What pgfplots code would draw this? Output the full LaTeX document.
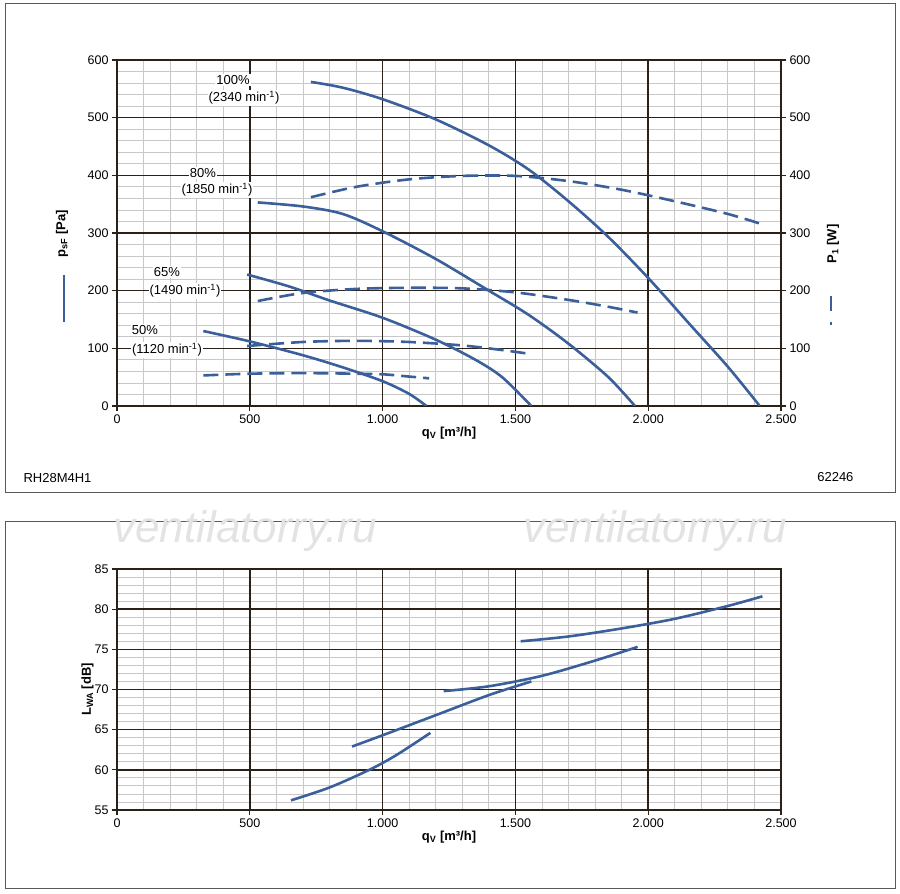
\documentclass[border=0pt]{standalone}
\usepackage{pgfplots}
\pgfplotsset{compat=1.18}
\usepackage{fontspec}
\setmainfont{Liberation Sans}
\definecolor{cb}{HTML}{3A5F9A}
\definecolor{gr}{HTML}{C8C8C8}
\definecolor{fr}{HTML}{2A2118}
\begin{document}
\begin{tikzpicture}[x=1pt,y=1pt,font=\fontsize{13}{15}\selectfont]
\useasboundingbox (0pt,0pt) rectangle (900pt,894pt);
\draw[gray!70!black,line width=1] (5pt,401pt) rectangle (895pt,890pt);
\draw[gray!70!black,line width=1] (5pt,5pt) rectangle (895pt,372pt);
\pgfplotsset{every axis/.style={scale only axis, anchor=south west,
  /pgf/number format/assume math mode=true,
  /pgf/number format/1000 sep={.},
  xmin=0,xmax=2500, xtick={0,500,1000,1500,2000,2500},
  axis line style={fr,line width=1.5}, tick style={fr,line width=1.2},
  tick align=outside, major tick length=5pt, minor tick length=0pt, tick pos=left,
  tick label style={font=\fontsize{12.5}{14}\selectfont}},
  mgrid/.style={grid=major, major grid style={fr,line width=1.5}},
  bgrid/.style={grid=minor, minor grid style={gr,line width=0.8}, xticklabels={}, yticklabels={}, major tick length=0pt,
     minor xtick={100,200,...,2400}},
  cv/.style={cb,line width=2.6,smooth,tension=0.5,no markers},
  dv/.style={cv,dash pattern=on 15pt off 7pt}}
% top axis
\begin{axis}[at={(117pt,488pt)},width=664pt,height=346pt, bgrid,
  ymin=0,ymax=600, minor ytick={20,40,...,580}]
\end{axis}
\begin{axis}[at={(117pt,488pt)},width=664pt,height=346pt, mgrid,
  ymin=0,ymax=600,ytick={0,100,200,300,400,500,600},
  xlabel={\textbf{q\textsubscript{V} [m³/h]}}, xlabel style={yshift=3pt}]
\addplot[cv] coordinates {(730,562)(850,552)(1000,532)(1200,497)(1400,452)(1550,410)(1700,355)(1850,293)(2000,222)(2150,145)(2300,68)(2420,0)};
\addplot[cv] coordinates {(530,353)(700,346)(850,333)(1000,303)(1200,255)(1400,200)(1550,158)(1700,108)(1850,50)(1950,0)};
\addplot[cv] coordinates {(490,228)(650,207)(800,183)(1000,153)(1200,115)(1350,80)(1450,50)(1560,0)};
\addplot[cv] coordinates {(325,130)(500,112)(700,88)(850,67)(1000,43)(1100,21)(1165,0)};
\addplot[dv] coordinates {(730,362)(900,380)(1100,393)(1300,399)(1500,399)(1700,390)(1900,375)(2100,355)(2300,333)(2430,315)};
\addplot[dv] coordinates {(530,182)(700,196)(900,203)(1100,205)(1300,204)(1500,197)(1700,184)(1850,172)(1960,162)};
\addplot[dv] coordinates {(490,104)(700,111)(900,113)(1100,111)(1300,105)(1450,97)(1560,90)};
\addplot[dv] coordinates {(325,53)(500,56)(700,57)(900,56)(1000,55)(1100,51)(1175,48)};
\end{axis}
\begin{axis}[at={(117pt,488pt)},width=664pt,height=346pt,
  ymin=0,ymax=600,ytick={0,100,...,600},
  axis y line*=right, axis x line=none]
\end{axis}
% top labels
\node[fill=white,inner sep=1pt] at (233pt,814pt) {100\%};
\node[fill=white,inner sep=1pt] at (244pt,796pt) {(2340 min\textsuperscript{-1})};
\node[fill=white,inner sep=1pt] at (203pt,721pt) {80\%};
\node[fill=white,inner sep=1pt] at (217pt,704pt) {(1850 min\textsuperscript{-1})};
\node[fill=white,inner sep=1pt] at (167pt,622pt) {65\%};
\node[fill=white,inner sep=1pt] at (185pt,603pt) {(1490 min\textsuperscript{-1})};
\node[fill=white,inner sep=1pt] at (145pt,564pt) {50\%};
\node[fill=white,inner sep=1pt] at (167pt,544pt) {(1120 min\textsuperscript{-1})};
\node[rotate=90] at (62pt,660pt) {\textbf{p\textsubscript{sF} [Pa]}};
\draw[cb,line width=2.4] (64pt,619pt) -- (64pt,572pt);
\node[rotate=90] at (833pt,650pt) {\textbf{P\textsubscript{1} [W]}};
\draw[cb,line width=2.4] (831pt,598pt) -- (831pt,583pt);
\draw[cb,line width=2.4] (831pt,572pt) -- (831pt,569pt);
\node[anchor=west] at (20pt,416pt) {RH28M4H1};
\node[anchor=east] at (857pt,417pt) {62246};
% watermark
\node[text=gray!22,font=\fontsize{44}{48}\itshape\selectfont] at (245pt,363pt) {ventilatorry.ru};
\node[text=gray!22,font=\fontsize{44}{48}\itshape\selectfont] at (655pt,363pt) {ventilatorry.ru};
% bottom axis
\begin{axis}[at={(117pt,84pt)},width=664pt,height=241pt, bgrid,
  ymin=55,ymax=85, minor ytick={56,57,...,84}]
\end{axis}
\begin{axis}[at={(117pt,84pt)},width=664pt,height=241pt, mgrid,
  ymin=55,ymax=85,ytick={55,60,65,70,75,80,85},
  xlabel={\textbf{q\textsubscript{V} [m³/h]}}, xlabel style={yshift=3pt},
  ylabel={\textbf{L\textsubscript{WA} [dB]}}, ylabel style={yshift=-6pt}]
\addplot[cv] coordinates {(655,56.2)(800,57.8)(950,60.0)(1050,61.8)(1180,64.6)};
\addplot[cv] coordinates {(885,62.9)(1000,64.3)(1200,66.8)(1400,69.3)(1560,71.0)};
\addplot[cv] coordinates {(1230,69.8)(1400,70.4)(1600,71.7)(1800,73.6)(1960,75.3)};
\addplot[cv] coordinates {(1520,76.0)(1700,76.6)(1900,77.6)(2100,78.8)(2300,80.4)(2430,81.6)};
\end{axis}
\end{tikzpicture}
\end{document}
